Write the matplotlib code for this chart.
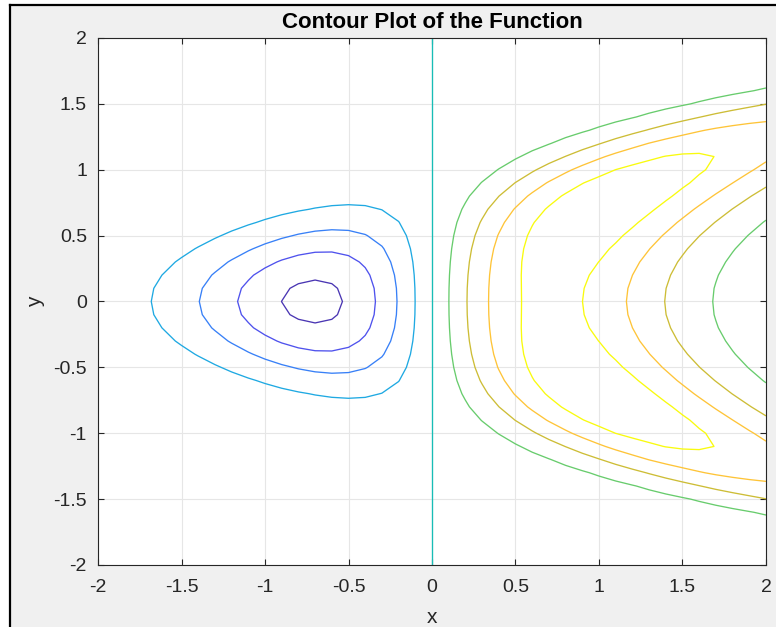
"""
Contour plot of z = x * exp(-(x - y^2)^2 - y^2) on [-2, 2] x [-2, 2].

Output: out.png
"""

import matplotlib
matplotlib.use("Agg")
import matplotlib.pyplot as plt
import numpy as np
from matplotlib.colors import LinearSegmentedColormap
from matplotlib.lines import Line2D
from matplotlib.patches import Rectangle

# sample grid and contour levels
x_vals = np.linspace(-2, 2, 41)
y_vals = np.linspace(-2, 2, 41)
levels = [-0.4, -0.3, -0.2, -0.1, 0.0, 0.1, 0.2, 0.3, 0.4]

tick_vals = [-2, -1.5, -1, -0.5, 0, 0.5, 1, 1.5, 2]
tick_labels = ["-2", "-1.5", "-1", "-0.5", "0", "0.5", "1", "1.5", "2"]

# parula-like colormap
parula = LinearSegmentedColormap.from_list("parula", [
    (0.000, (0.2900, 0.2100, 0.7000)),
    (0.125, (0.3100, 0.3200, 0.9300)),
    (0.250, (0.2200, 0.5000, 0.9700)),
    (0.375, (0.1200, 0.6600, 0.8900)),
    (0.500, (0.0900, 0.7400, 0.7200)),
    (0.625, (0.4000, 0.8000, 0.4300)),
    (0.750, (0.8000, 0.7400, 0.2100)),
    (0.875, (0.9950, 0.7700, 0.2200)),
    (1.000, (0.9763, 0.9831, 0.0538)),
])

plt.rcParams["font.family"] = ["Liberation Sans", "DejaVu Sans"]
plt.rcParams["axes.unicode_minus"] = False

X, Y = np.meshgrid(x_vals, y_vals)
Z = X * np.exp(-(X - Y ** 2) ** 2 - Y ** 2)

fig = plt.figure(figsize=(7.76, 6.27), dpi=100, facecolor="white")

# window background and frame edges
fig.patches.append(Rectangle((0.0129, 0), 1 - 0.0129, 0.9928, transform=fig.transFigure,
                             facecolor="#f0f0f0", edgecolor="none", zorder=-10))
fig.lines.append(Line2D([0.0129, 1.0], [0.9928, 0.9928], transform=fig.transFigure,
                        color="black", linewidth=1.6, zorder=10))
fig.lines.append(Line2D([0.0129, 0.0129], [0.0, 0.9928], transform=fig.transFigure,
                        color="black", linewidth=1.6, zorder=10))

ax = fig.add_axes([0.1263, 0.0989, 0.8608, 0.8405])
ax.set_zorder(1)
ax.set_facecolor("white")

ax.contour(X, Y, Z, levels=levels, cmap=parula, vmin=min(levels), vmax=max(levels),
           linewidths=0.95)

ax.set_xlim(-2, 2)
ax.set_ylim(-2, 2)
ax.set_xticks(tick_vals)
ax.set_xticklabels(tick_labels)
ax.set_yticks(tick_vals)
ax.set_yticklabels(tick_labels)

ax.grid(True, color="#e6e6e6", linewidth=0.8)
ax.set_axisbelow(True)
ax.tick_params(direction="in", length=4, width=0.8, colors="#262626",
               top=True, right=True, labelsize=14)
ax.tick_params(axis="x", pad=10)
ax.tick_params(axis="y", pad=8)
for spine in ax.spines.values():
    spine.set_color("#262626")
    spine.set_linewidth(0.8)

ax.set_title("Contour Plot of the Function", fontsize=16, fontweight="bold",
             color="black", pad=7)
ax.set_xlabel("x", fontsize=15, color="#262626", labelpad=9)
ax.set_ylabel("y", fontsize=15, color="#262626", labelpad=6)

fig.savefig("out.png", dpi=100, facecolor=fig.get_facecolor())
